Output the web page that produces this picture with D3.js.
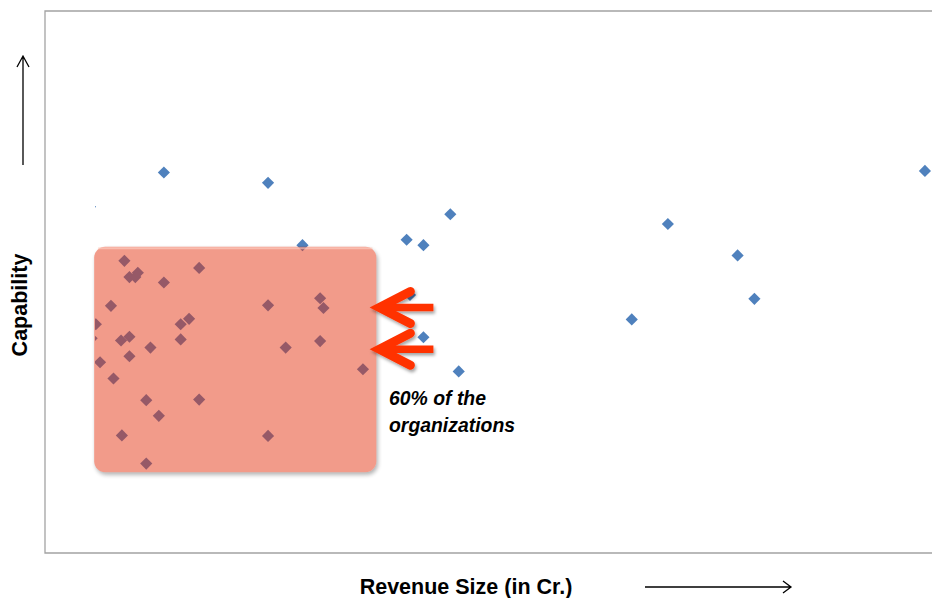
<!DOCTYPE html>
<html><head><meta charset="utf-8">
<script src="https://cdn.jsdelivr.net/npm/d3@7"></script>
<style>html,body{margin:0;padding:0;background:#fff;} svg{display:block}</style>
</head><body>
<svg id="chart" width="932" height="598"></svg>
<script>
// Revenue size (x) and capability (y) of each organization, arbitrary units 0-100
const revenue = [-0.6, 8.2, 20.6, 24.7, 37.1, 39.1, 42.3, 37.5, 39.1, 43.3, 63.9, 68.2, 76.5, 78.5, 98.8,
                 3.5, 12.4, 4.1, 4.8, 5.1, 8.2, 1.9, 0.1, -0.4, 3.1, 4.1, 6.6, 10.2, 11.2, 10.2,
                 4.1, 0.6, 2.2, 6.1, 12.4, 7.6, 3.2, 6.1, 20.6, 26.8, 27.2, 26.8, 22.7, 31.9, 20.6];
const capability = [63.9, 70.2, 68.3, 56.8, 57.8, 56.8, 62.5, 47.6, 39.8, 33.5, 43.1, 60.7, 54.9, 46.9, 70.5,
                    53.9, 52.6, 50.9, 50.9, 51.7, 49.9, 45.6, 42.2, 39.6, 39.2, 39.9, 37.9, 42.2, 43.2, 39.4,
                    36.3, 35.2, 32.2, 28.2, 28.3, 25.3, 21.7, 16.5, 45.7, 47.0, 45.2, 39.1, 37.9, 33.9, 21.6];
const xDomain = [0, 100];
const yDomain = [0, 100];
const xTitle = "Revenue Size (in Cr.)";
const yTitle = "Capability";
const noteLines = ["60% of the", "organizations"];
// highlighted region (data units): revenue range and capability range
const regionX = [-0.1, 33.5];
const regionY = [14.9, 56.5];
// capability levels marked by the call-out arrows
const arrowLevels = [45.3, 37.6];

const svg = d3.select("#chart");
const frame = {left: 45, top: 11, bottom: 553};
const x = d3.scaleLinear().domain(xDomain).range([95, 935]);
const y = d3.scaleLinear().domain(yDomain).range([553, 11]);

const defs = svg.append("defs");
defs.append("clipPath").attr("id", "plotclip").append("rect")
  .attr("x", x(0)).attr("y", frame.top).attr("width", 932 - x(0)).attr("height", frame.bottom - frame.top);
const blur = defs.append("filter").attr("id", "boxblur").attr("x", "-20%").attr("y", "-20%").attr("width", "140%").attr("height", "140%");
blur.append("feGaussianBlur").attr("stdDeviation", 2);
const ash = defs.append("filter").attr("id", "arrowshadow").attr("x", "-30%").attr("y", "-30%").attr("width", "160%").attr("height", "160%");
ash.append("feDropShadow").attr("dx", 1.5).attr("dy", 2.5).attr("stdDeviation", 1.5).attr("flood-color", "#000").attr("flood-opacity", 0.35);

// frame (left, top, bottom borders)
svg.append("path")
  .attr("d", `M940,${frame.top}H${frame.left}V${frame.bottom}H940`)
  .attr("fill", "none").attr("stroke", "#a3a3a3").attr("stroke-width", 1.3);

// data points
const data = revenue.map((r, i) => ({r, c: capability[i]}));
const diamond = d3.symbol().type(d3.symbolSquare).size(74);
svg.append("g").attr("clip-path", "url(#plotclip)")
  .selectAll("path").data(data).join("path")
  .attr("d", diamond)
  .attr("transform", d => `translate(${x(d.r)},${y(d.c)}) rotate(45)`)
  .attr("fill", "#4f81bd");

// highlighted region box
const bx = x(regionX[0]), bx2 = x(regionX[1]), by = y(regionY[1]), by2 = y(regionY[0]);
const bw = bx2 - bx, bh = by2 - by;
const mask = defs.append("mask").attr("id", "outside");
mask.append("rect").attr("x", 0).attr("y", 0).attr("width", 932).attr("height", 598).attr("fill", "#fff");
mask.append("rect").attr("x", bx).attr("y", by).attr("width", bw).attr("height", bh).attr("rx", 11).attr("fill", "#000");
svg.append("rect").attr("x", bx + 1.5).attr("y", by + 2.5).attr("width", bw).attr("height", bh).attr("rx", 11)
  .attr("fill", "#000").attr("opacity", 0.3).attr("filter", "url(#boxblur)").attr("mask", "url(#outside)");
svg.append("rect").attr("x", bx).attr("y", by).attr("width", bw).attr("height", bh).attr("rx", 11)
  .attr("fill", "rgb(228,45,10)").attr("fill-opacity", 0.48);
svg.append("path")
  .attr("d", `M${bx + 4},${by + 1.5}H${bx2 - 4}`)
  .attr("stroke", "#ffd2c6").attr("stroke-width", 2).attr("opacity", 0.6);

// call-out arrows
const ag = svg.append("g").attr("filter", "url(#arrowshadow)");
arrowLevels.forEach(lv => {
  const ty = y(lv), tx = bx2 + 1;
  ag.append("path").attr("d", `M${tx + 33},${ty - 16}L${tx + 2},${ty}L${tx + 33},${ty + 16}`)
    .attr("fill", "none").attr("stroke", "#ff3300").attr("stroke-width", 9)
    .attr("stroke-linecap", "round").attr("stroke-linejoin", "miter");
  ag.append("path").attr("d", `M${tx + 6},${ty}H${tx + 56}`)
    .attr("stroke", "#ff3300").attr("stroke-width", 7.5);
});

// note
svg.append("text").attr("x", 389).attr("y", 405)
  .attr("font-family", "'Liberation Sans', Arial, sans-serif").attr("font-weight", "bold").attr("font-style", "italic")
  .attr("font-size", 19.4).attr("fill", "#000")
  .selectAll("tspan").data(noteLines).join("tspan")
  .attr("x", 389).attr("dy", (d, i) => i ? 27 : 0).text(d => d);

// axis titles
svg.append("text").attr("x", 466).attr("y", 594).attr("text-anchor", "middle")
  .attr("font-family", "'Liberation Sans', Arial, sans-serif").attr("font-weight", "bold").attr("font-size", 21.5)
  .text(xTitle);
svg.append("text").attr("transform", "translate(27,305) rotate(-90)").attr("text-anchor", "middle")
  .attr("font-family", "'Liberation Sans', Arial, sans-serif").attr("font-weight", "bold").attr("font-size", 21.5)
  .text(yTitle);

// direction arrows next to the titles
const arrowStyle = s => s.attr("fill", "none").attr("stroke", "#000").attr("stroke-width", 1.3);
svg.append("path").attr("d", "M23,165V56M17,67L23,56L29,67").call(arrowStyle);
svg.append("path").attr("d", "M645,587H791M783,581L791,587L783,593").call(arrowStyle);
</script>
</body></html>
